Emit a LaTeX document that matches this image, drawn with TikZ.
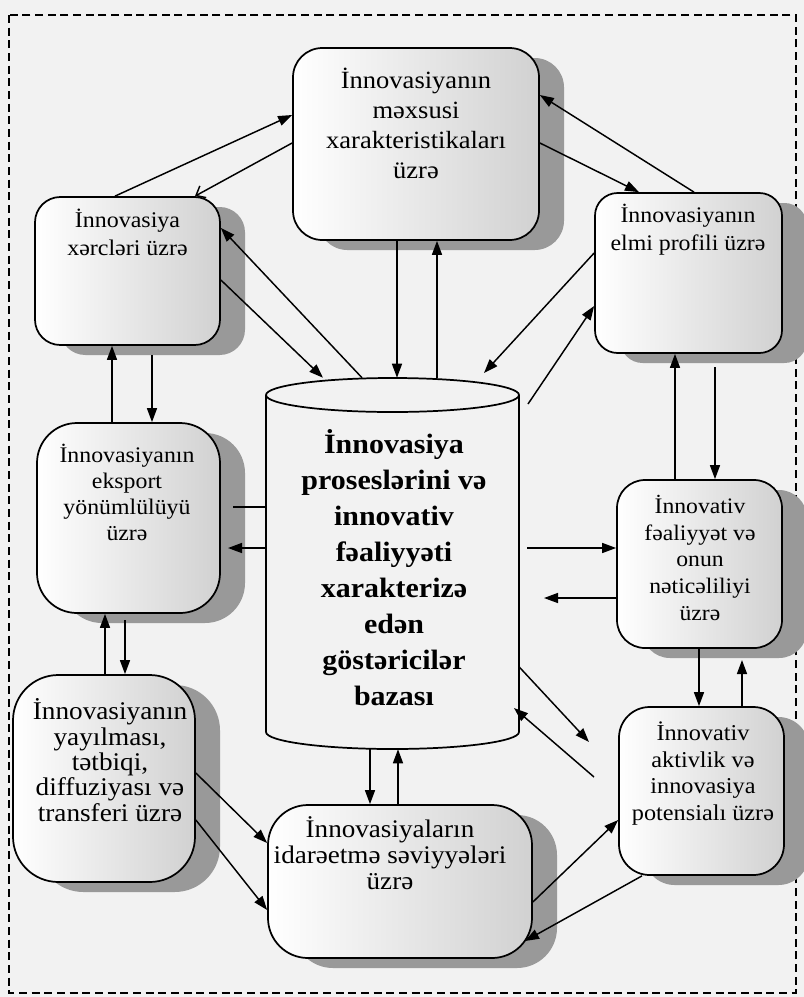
\documentclass[tikz,border=0pt]{standalone}
\usepackage{fontspec}
\setmainfont{Liberation Serif}[FakeStretch=1.07]
\usetikzlibrary{arrows.meta,fit,shadows}
\newcommand\mytightls{\lineskiplimit=-20pt\relax}
\begin{document}
\begin{tikzpicture}[x=0.75pt,y=-0.75pt,
  box/.style={draw, line width=1.3pt, left color=white, right color=black!18, inner sep=0pt,
    drop shadow={shadow xshift=18.75pt, shadow yshift=-7.5pt, fill=black!40, opacity=1}},
  lbl/.style={anchor=north, align=center, inner sep=0pt},
  arr/.style={line width=1.1pt, -{Triangle[length=10.5pt,width=7.5pt]}},
  barb/.style={line width=1.1pt, -{Straight Barb[length=6pt,width=10pt]}},
  plain/.style={line width=1.1pt}]
\useasboundingbox (0,0) rectangle (804,997);
\fill[black!5] (0,0) rectangle (804,997);
\draw[line width=1pt, dash pattern=on 6pt off 3.5pt] (9,15) rectangle (796,993);

% boxes
\node[box, rounded corners=22pt, fit={(293,48) (539,240)}] (b1) {};
\node[box, rounded corners=19pt, fit={(35,197) (220,345)}] (b2) {};
\node[box, rounded corners=17pt, fit={(595,193) (782,353)}] (b3) {};
\node[box, rounded corners=30pt, fit={(37,423) (220,613)}] (b4) {};
\node[box, rounded corners=21pt, fit={(617,480) (782,648)}] (b6) {};
\node[box, rounded corners=34pt, fit={(13,675) (195,882)}] (b7) {};
\node[box, rounded corners=30pt, fit={(268,805) (532,958)}] (b8) {};
\node[box, rounded corners=23pt, fit={(619,707) (784,875)}] (b9) {};

% cylinder
\node[fit={(266,378) (519,749)}, inner sep=0pt] (cyl) {};
\draw[line width=1.3pt] (266,395) -- (266,732) arc[start angle=180, end angle=360, x radius=94.875pt, y radius=12.75pt] -- (519,395);
\draw[line width=1.3pt] (392.5,395) ellipse [x radius=94.875pt, y radius=12.75pt];

% texts
\node[lbl, font={\fontsize{18.6}{22.5}\selectfont}] (t1) at (416,68) {İnnovasiyanın\\məxsusi\\xarakteristikaları\\üzrə};
\node[lbl, font={\fontsize{16.8}{21}\selectfont}] (t2) at (127.5,208.5) {İnnovasiya\\xərcləri üzrə};
\node[lbl, font={\fontsize{16.7}{21}\selectfont}] (t3) at (688,204) {İnnovasiyanın\\elmi profili üzrə};
\node[lbl, font={\fontsize{16.7}{19.5}\selectfont\mytightls}] (t4) at (127,444) {İnnovasiyanın\\eksport\\yönümlülüyü\\üzrə};
\node[lbl, font={\fontsize{16.6}{20}\selectfont\mytightls}] (t6) at (700,495) {İnnovativ\\fəaliyyət və\\onun\\nəticəliliyi\\üzrə};
\node[lbl, font={\fontsize{19.1}{19}\selectfont\mytightls}] (t7) at (110,698.5) {İnnovasiyanın\\yayılması,\\tətbiqi,\\diffuziyası və\\transferi üzrə};
\node[lbl, font={\fontsize{19}{19.5}\selectfont\mytightls}] (t8) at (390,816.5) {İnnovasiyaların\\idarəetmə səviyyələri\\üzrə};
\node[lbl, font={\fontsize{17}{20}\selectfont\mytightls}] (t9) at (703,721.5) {İnnovativ\\aktivlik və\\innovasiya\\potensialı üzrə};
\node[lbl, font={\fontsize{21}{27}\selectfont\bfseries}] (tc) at (394,429) {İnnovasiya\\proseslərini və\\innovativ\\fəaliyyəti\\xarakterizə\\edən\\göstəricilər\\bazası};

% free / offset coordinates
\coordinate (q10) at (528,404);
\coordinate (q12) at (715,367);
\coordinate (q14) at (152,355);
\coordinate (q15) at (233,507);
\coordinate (q16) at (228,548);
\coordinate (q17) at (527,548);
\coordinate (q18) at (544,598);
\coordinate (q20) at (125,620);
\coordinate (q26) at (742,660);
\coordinate (q27) at (589,742);
\coordinate (q28a) at (594,777);
\coordinate (q28b) at (514,708);
\coordinate (q30) at (525,941);
\coordinate (q9) at (484,373);

% connectors
\draw[arr] (115,0 |- b2.north) -- (b1.west |- 0,115);
\draw[barb] (b1.west |- 0,143) -- (195,0 |- b2.north);
\draw[arr] (b2.east |- 0,280) -- (323,0 |- cyl.north);
\draw[arr] (362,0 |- cyl.north) -- (b2.east |- 0,228);
\draw[arr] (397,0 |- b1.south) -- (397,0 |- cyl.north);
\draw[arr] (437,0 |- cyl.north) -- (437,0 |- b1.south);
\draw[arr] (694,0 |- b3.north) -- (b1.east |- 0,95);
\draw[arr] (b1.east |- 0,143) -- (639,0 |- b3.north);
\draw[arr] (b3.west |- 0,253) -- (q9);
\draw[arr] (q10) -- (b3.west |- 0,306);
\draw[arr] (675,0 |- b6.north) -- (675,0 |- b3.south);
\draw[arr] (q12) -- (715,0 |- b6.north);
\draw[arr] (112,0 |- b4.north) -- (112,0 |- b2.south);
\draw[arr] (q14) -- (152,0 |- b4.north);
\draw[plain] (cyl.west |- 0,507) -- (q15);
\draw[arr] (cyl.west |- 0,548) -- (q16);
\draw[arr] (q17) -- (b6.west |- 0,548);
\draw[arr] (b6.west |- 0,598) -- (q18);
\draw[arr] (105,0 |- b7.north) -- (105,0 |- b4.south);
\draw[arr] (q20) -- (125,0 |- b7.north);
\draw[arr] (b7.east |- 0,773) -- (b8.west |- 0,843);
\draw[arr] (b7.east |- 0,820) -- (b8.west |- 0,910);
\draw[arr] (370,0 |- cyl.south) -- (370,0 |- b8.north);
\draw[arr] (398,0 |- b8.north) -- (398,0 |- cyl.south);
\draw[arr] (699,0 |- b6.south) -- (699,0 |- b9.north);
\draw[arr] (742,0 |- b9.north) -- (q26);
\draw[arr] (cyl.east |- 0,667) -- (q27);
\draw[arr] (q28a) -- (q28b);
\draw[arr] (b8.east |- 0,902) -- (b9.west |- 0,820);
\draw[arr] (642,0 |- b9.south) -- (q30);
\end{tikzpicture}
\end{document}
